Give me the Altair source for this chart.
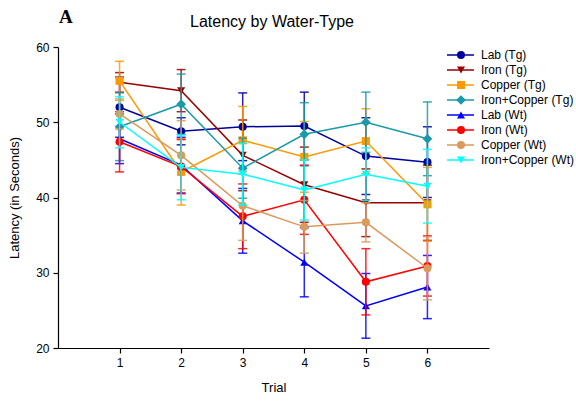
import altair as alt
import pandas as pd

# Trial numbers on the x axis
trials = [1, 2, 3, 4, 5, 6]

# Series labels, in legend order
series = [
    "Lab (Tg)", "Iron (Tg)", "Copper (Tg)", "Iron+Copper (Tg)",
    "Lab (Wt)", "Iron (Wt)", "Copper (Wt)", "Iron+Copper (Wt)",
]

# Mean latency (seconds) per trial for each group
lab_tg = [52.0, 48.8, 49.4, 49.5, 45.5, 44.7]
iron_tg = [55.3, 54.2, 45.6, 41.7, 39.3, 39.3]
copper_tg = [55.5, 43.4, 47.6, 45.4, 47.5, 39.1]
ironcopper_tg = [49.4, 52.4, 43.9, 48.4, 50.0, 47.8]
lab_wt = [47.8, 44.3, 36.9, 31.4, 25.6, 28.1]
iron_wt = [47.4, 44.1, 37.5, 39.7, 28.8, 30.9]
copper_wt = [51.1, 45.6, 38.9, 36.1, 36.7, 30.6]
ironcopper_wt = [50.0, 44.0, 43.1, 41.0, 43.1, 41.5]

# Standard error per trial for each group
lab_tg_err = [4.0, 1.8, 4.5, 4.5, 5.1, 4.7]
iron_tg_err = [1.3, 2.8, 4.7, 5.0, 4.5, 5.0]
copper_tg_err = [2.6, 4.4, 4.5, 4.7, 4.3, 4.9]
ironcopper_tg_err = [4.5, 4.0, 4.0, 4.2, 4.0, 4.9]
lab_wt_err = [3.3, 3.7, 4.3, 4.6, 4.3, 4.2]
iron_wt_err = [4.0, 3.6, 4.3, 4.6, 4.4, 4.0]
copper_wt_err = [2.0, 4.6, 4.6, 3.5, 2.6, 4.2]
ironcopper_wt_err = [3.4, 4.3, 4.1, 4.0, 3.5, 4.9]

means = [lab_tg, iron_tg, copper_tg, ironcopper_tg,
         lab_wt, iron_wt, copper_wt, ironcopper_wt]
errors = [lab_tg_err, iron_tg_err, copper_tg_err, ironcopper_tg_err,
          lab_wt_err, iron_wt_err, copper_wt_err, ironcopper_wt_err]

colors = ["#00009C", "#990000", "#FF9900", "#1A9AA8",
          "#0000FF", "#FF0000", "#D99A5B", "#00FFFF"]
shapes = ["circle", "triangle-down", "square", "diamond",
          "triangle-up", "circle", "circle", "triangle-down"]
sizes = [65, 65, 65, 95, 65, 65, 65, 65]

FONT = "Liberation Sans"

x_scale = alt.Scale(domain=[0, 7], nice=False)
y_scale = alt.Scale(domain=[20, 60], nice=False)
x_axis = alt.Axis(values=trials, format="d", title="Trial", titlePadding=13)
y_axis = alt.Axis(values=[20, 30, 40, 50, 60], title="Latency (in Seconds)",
                  titlePadding=14)

layers = []
for name, m, e, col, shp, sz in zip(series, means, errors, colors, shapes, sizes):
    df = pd.DataFrame({"trial": trials, "latency": m, "err": e, "series": name})
    base = alt.Chart(df).transform_calculate(
        lo="datum.latency - datum.err", hi="datum.latency + datum.err"
    )
    bar = base.mark_rule(strokeWidth=1.5, opacity=0.85).encode(
        x=alt.X("trial:Q", scale=x_scale, axis=x_axis),
        y=alt.Y("lo:Q", scale=y_scale, axis=y_axis),
        y2="hi:Q",
        color=alt.value(col),
    )
    cap_lo = base.mark_tick(orient="horizontal", size=9, thickness=1.5, opacity=0.85).encode(
        x="trial:Q", y="lo:Q", color=alt.value(col))
    cap_hi = base.mark_tick(orient="horizontal", size=9, thickness=1.5, opacity=0.85).encode(
        x="trial:Q", y="hi:Q", color=alt.value(col))
    line = base.mark_line(strokeWidth=1.5).encode(
        x="trial:Q", y="latency:Q", color=alt.value(col))
    pts = base.mark_point(filled=True, size=sz, opacity=1, shape=shp).encode(
        x="trial:Q", y="latency:Q", color=alt.value(col))
    layers += [bar, cap_lo, cap_hi, line, pts]

plot = alt.layer(*layers)

# Legend built from the series list
leg_df = pd.DataFrame({"series": series, "idx": list(range(len(series))), "sz": sizes})
leg_y = alt.Y("idx:Q", scale=alt.Scale(domain=[0, 7], range=[8, 113]), axis=None)
leg_color = alt.Color("series:N", scale=alt.Scale(domain=series, range=colors), legend=None)
leg_shape = alt.Shape("series:N", scale=alt.Scale(domain=series, range=shapes), legend=None)
leg_base = alt.Chart(leg_df)
leg_line = leg_base.mark_rule(strokeWidth=1.5).encode(
    x=alt.value(389), x2=alt.value(416), y=leg_y, color=leg_color)
leg_pts = leg_base.mark_point(filled=True, opacity=1).encode(
    x=alt.value(403), y=leg_y, color=leg_color, shape=leg_shape,
    size=alt.Size("sz:Q", scale=None, legend=None))
leg_txt = leg_base.mark_text(align="left", baseline="middle", font=FONT,
                             fontSize=12, color="black").encode(
    x=alt.value(423), y=leg_y, text="series:N")
legend = alt.layer(leg_line, leg_pts, leg_txt)

# Chart heading and panel letter
heading = alt.Chart(pd.DataFrame({"t": ["Latency by Water-Type"]})).mark_text(
    font=FONT, fontSize=16, align="center", baseline="alphabetic", color="black"
).encode(x=alt.value(214), y=alt.value(-20), text="t:N")
letter = alt.Chart(pd.DataFrame({"t": ["A"]})).mark_text(
    font="Liberation Serif", fontSize=19, fontWeight="bold", align="left",
    baseline="alphabetic", color="black"
).encode(x=alt.value(1), y=alt.value(-24), text="t:N")

chart = alt.layer(plot, legend, heading, letter).resolve_scale(
    y="independent", color="independent", shape="independent"
).properties(
    width=431,
    height=301,
    autosize=alt.AutoSizeParams(type="none"),
    padding={"left": 58, "top": 47, "right": 87, "bottom": 54},
).configure_view(stroke=None).configure_axis(
    grid=False, domainColor="black", tickColor="black", domainWidth=1.2,
    tickWidth=1.2, tickSize=5, labelFont=FONT, labelFontSize=12,
    labelColor="black", titleFont=FONT, titleFontSize=13,
    titleFontWeight="normal", titleColor="black", labelPadding=4,
)

chart.save("out.html", embed_options={"renderer": "svg", "actions": False})
